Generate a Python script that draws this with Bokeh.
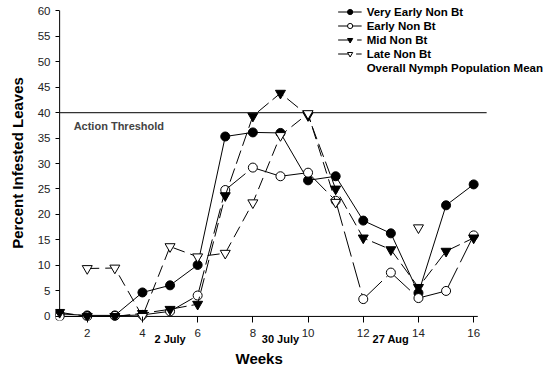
import math
from bokeh.plotting import figure
from bokeh.models import Range1d, Legend, LegendItem, Label, FixedTicker, LinearAxis, Title
from bokeh.embed import file_html
from bokeh.resources import INLINE

nan = float("nan")

weeks = list(range(1, 17))
very_early = [0.5, 0.2, 0.2, 4.7, 6.1, 10.1, 35.3, 36.1, 36.0, 26.7, 27.5, 18.8, 16.3, 4.6, 21.8, 25.9]
early = [0.0, 0.0, 0.1, 0.3, 1.0, 4.1, 24.8, 29.2, 27.5, 28.2, 22.7, 3.4, 8.6, 3.6, 5.0, 15.9]
mid = [0.8, 0.0, 0.0, 0.6, 1.4, 2.4, 23.7, 39.3, 43.8, 39.4, 25.0, 15.4, 13.1, 5.7, 12.8, 15.4]
late = [nan, 9.4, 9.5, 0.0, 13.7, 11.7, 12.4, 22.3, 35.5, 39.8, 22.4, nan, nan, 17.4, nan, nan]

series_names = ["Very Early Non Bt", "Early Non Bt", "Mid Non Bt", "Late Non Bt",
                "Overall Nymph Population Mean"]

threshold = 40
threshold_label = "Action Threshold"
threshold_x = [1, 16.47]
x_axis_extent = [1, 16.15]
y_axis_extent = [0, 60]
x_ticks = list(range(2, 17, 2))
y_ticks = list(range(0, 61, 5))

date_weeks = [5, 9, 13]
date_labels = ["2 July", "30 July", "27 Aug"]

FONT = "Liberation Sans"

p = figure(width=543, height=370, x_range=Range1d(0.85, 18.53), y_range=Range1d(-0.8, 61),
           output_backend="svg", toolbar_location=None,
           min_border_left=55, min_border_right=0, min_border_top=5, min_border_bottom=50)
p.title.visible = False
p.outline_line_color = None
p.xgrid.visible = False
p.ygrid.visible = False
p.background_fill_color = "white"

# axes
p.xaxis.ticker = FixedTicker(ticks=x_ticks)
p.xaxis.bounds = (x_axis_extent[0], x_axis_extent[1])
p.yaxis.ticker = FixedTicker(ticks=y_ticks)
p.yaxis.bounds = (y_axis_extent[0], y_axis_extent[1])
for ax in (p.xaxis[0], p.yaxis[0]):
    ax.axis_line_color = None
    ax.major_tick_in = 4
    ax.major_tick_out = 0
    ax.minor_tick_line_color = None
    ax.major_tick_line_color = "black"
    ax.major_label_text_font = FONT
    ax.major_label_text_font_size = "11.5px"
    ax.major_label_text_color = "#222222"
p.xaxis.major_tick_out = 2
p.xaxis.major_label_standoff = 6
p.yaxis.major_label_standoff = 5
p.yaxis.axis_label = "Percent Infested Leaves"
p.yaxis.axis_label_text_font = FONT
p.yaxis.axis_label_text_font_style = "bold"
p.yaxis.axis_label_text_font_size = "15px"
p.yaxis.axis_label_text_color = "black"
p.yaxis.axis_label_standoff = 9

# second bottom axis carrying the date notes
date_axis = LinearAxis(ticker=FixedTicker(ticks=date_weeks),
                       major_label_overrides={w: t for w, t in zip(date_weeks, date_labels)},
                       bounds=(1, 15.5))
date_axis.axis_line_color = None
date_axis.major_tick_line_color = None
date_axis.minor_tick_line_color = None
date_axis.major_tick_in = 0
date_axis.major_tick_out = 0
date_axis.major_label_standoff = -7
date_axis.major_label_text_font = FONT
date_axis.major_label_text_font_style = "bold"
date_axis.major_label_text_font_size = "11px"
date_axis.major_label_text_color = "black"
p.add_layout(date_axis, "below")

p.add_layout(Title(text="Weeks", align="left", offset=180, standoff=0,
                   text_font=FONT, text_font_style="bold", text_font_size="15px",
                   text_color="black"), "below")

# axis lines and threshold
p.line(x_axis_extent, [0, 0], line_color="black", line_width=1)
p.line([1, 1], y_axis_extent, line_color="black", line_width=1)
p.line(threshold_x, [threshold, threshold], line_color="#333333", line_width=1.2)

# series
l1 = p.line(weeks, very_early, line_color="black", line_width=1)
s1 = p.scatter(weeks, very_early, marker="circle", size=9, fill_color="black", line_color="black")

early_xs = [[weeks[i], weeks[i + 1]] for i in range(len(weeks) - 1)]
early_ys = [[early[i], early[i + 1]] for i in range(len(weeks) - 1)]
p.multi_line(early_xs, early_ys, line_color="black", line_width=1, line_dash="26 6")
s2 = p.scatter(weeks, early, marker="circle", size=9, fill_color="white", line_color="black")

l3 = p.line(weeks, mid, line_color="black", line_width=1, line_dash="14 5")
s3 = p.scatter(weeks, mid, marker="inverted_triangle", size=10, fill_color="black", line_color="black")

l4 = p.line(weeks, late, line_color="black", line_width=1, line_dash="12 6")
s4 = p.scatter(weeks, late, marker="inverted_triangle", size=10, fill_color="white", line_color="black")

# legend-only renderers (a single point draws no visible line on the chart)
l2_leg = p.line(weeks[:1], early[:1], line_color="black", line_width=1)
l5 = p.line(weeks[:1], early[:1], line_alpha=0)

legend = Legend(items=[
    LegendItem(label=series_names[0], renderers=[l1, s1]),
    LegendItem(label=series_names[1], renderers=[l2_leg, s2]),
    LegendItem(label=series_names[2], renderers=[l3, s3]),
    LegendItem(label=series_names[3], renderers=[l4, s4]),
    LegendItem(label=series_names[4], renderers=[l5]),
], location="top_right")
legend.border_line_color = None
legend.background_fill_alpha = 0
legend.margin = 0
legend.padding = 1
legend.spacing = 1
legend.label_height = 13
legend.glyph_height = 13
legend.glyph_width = 24
legend.label_standoff = 5
legend.label_text_font = FONT
legend.label_text_font_style = "bold"
legend.label_text_font_size = "11.5px"
legend.label_text_color = "black"
p.add_layout(legend)

p.add_layout(Label(x=1, y=threshold, x_offset=14, y_offset=-13, text=threshold_label,
                   text_font=FONT, text_font_style="bold", text_font_size="11px",
                   text_align="left", text_baseline="middle"))

open("out.html", "w").write(file_html(p, INLINE))
